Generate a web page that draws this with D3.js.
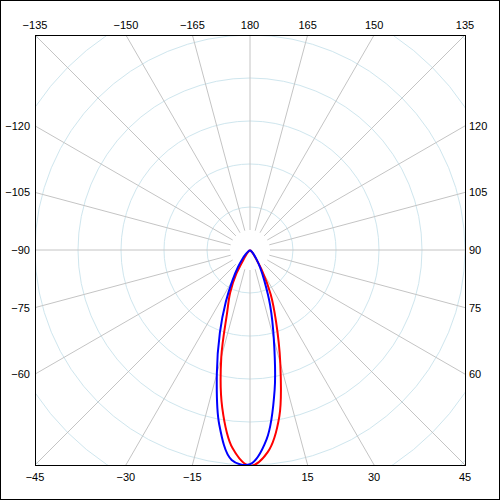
<!DOCTYPE html>
<html>
<head>
<meta charset="utf-8">
<script src="https://cdn.jsdelivr.net/npm/d3@7"></script>
<style>
  html, body { margin: 0; padding: 0; background: #fff; }
  svg { display: block; }
</style>
</head>
<body>
<div id="chart"></div>
<script>
// polar intensity curves, angle 0 points down
const angles = [-90, -85, -80, -75, -70, -65, -60, -55, -50, -45, -40, -35, -30, -25, -20, -15, -10, -5,
  0, 5, 10, 15, 20, 25, 30, 35, 40, 45, 50, 55, 60, 65, 70, 75, 80, 85, 90];
const redValues = [0, 0, 0, 0, 0, 0, 0, 0, 0, 5, 12, 23, 63, 109, 156, 258, 372, 463,
  502, 472, 393, 272, 177, 114, 58, 23, 12, 5, 0, 0, 0, 0, 0, 0, 0, 0, 0];
const blueValues = [0, 0, 0, 0, 0, 0, 0, 0, 5, 16, 28, 49, 81, 133, 205, 298, 412, 490,
  498, 442, 330, 214, 137, 79, 47, 26, 14, 7, 0, 0, 0, 0, 0, 0, 0, 0, 0];
const ringValues = [100, 200, 300, 400, 500, 600, 700];
const spokeAngles = [-165, -150, -135, -120, -105, -90, -75, -60, -45, -30, -15, 0,
  15, 30, 45, 60, 75, 90, 105, 120, 135, 150, 165, 180];

const width = 500, height = 500;
const cx = 250, cy = 250, half = 215;
const fmt = d3.format("d");

const svg = d3.select("#chart")
  .append("svg")
  .attr("width", width)
  .attr("height", height);

svg.append("rect")
  .attr("x", 0.5).attr("y", 0.5)
  .attr("width", width - 1).attr("height", height - 1)
  .attr("fill", "#fff").attr("stroke", "#000");

svg.append("clipPath").attr("id", "plot-clip")
  .append("rect")
  .attr("x", cx - half).attr("y", cy - half)
  .attr("width", half * 2).attr("height", half * 2);

const r = d3.scaleLinear().domain([0, 500]).range([0, half]);
const rad = d => d * Math.PI / 180;

const g = svg.append("g")
  .attr("transform", `translate(${cx},${cy})`);
const plot = svg.append("g").attr("clip-path", "url(#plot-clip)")
  .append("g").attr("transform", `translate(${cx},${cy})`);

// rings
plot.append("g")
  .selectAll("circle")
  .data(ringValues)
  .join("circle")
    .attr("r", d => r(d))
    .attr("fill", "none")
    .attr("stroke", "#cfe6ee")
    .attr("stroke-width", 1);

// spokes
const inner = 20, outer = 400;
plot.append("g")
  .selectAll("line")
  .data(spokeAngles)
  .join("line")
    .attr("x1", d => inner * Math.sin(rad(d)))
    .attr("y1", d => inner * Math.cos(rad(d)))
    .attr("x2", d => outer * Math.sin(rad(d)))
    .attr("y2", d => outer * Math.cos(rad(d)))
    .attr("stroke", "#c4c4c4")
    .attr("stroke-width", 1);

// curves
const line = d3.lineRadial()
  .angle(d => Math.PI - rad(d[0]))
  .radius(d => r(d[1]))
  .curve(d3.curveCatmullRom);

[[redValues, "#ff0000"], [blueValues, "#0000ff"]].forEach(([vals, color]) => {
  plot.append("path")
    .datum(angles.map((a, i) => [a, vals[i]]))
    .attr("d", line)
    .attr("fill", "none")
    .attr("stroke", color)
    .attr("stroke-width", 2)
    .attr("stroke-linejoin", "round");
});

// frame
svg.append("rect")
  .attr("x", cx - half + 0.5).attr("y", cy - half + 0.5)
  .attr("width", half * 2).attr("height", half * 2)
  .attr("fill", "none").attr("stroke", "#000");

// angle labels where spokes meet the frame
const labels = spokeAngles.filter(a => a !== 0).map(a => {
  const s = Math.sin(rad(a)), c = Math.cos(rad(a));
  const t = half / Math.max(Math.abs(s), Math.abs(c));
  const px = t * s, py = t * c;
  if (Math.abs(c) >= Math.abs(s) - 1e-9) {
    return { a, x: px, y: c > 0 ? 231 : -221, anchor: "middle" };
  }
  return s < 0
    ? { a, x: -220, y: py + 4, anchor: "end" }
    : { a, x: 219, y: py + 4, anchor: "start" };
});

g.append("g")
  .attr("font-family", "'Liberation Sans', Arial, sans-serif")
  .attr("font-size", 11)
  .attr("fill", "#000")
  .selectAll("text")
  .data(labels)
  .join("text")
    .attr("x", d => d.x)
    .attr("y", d => d.y)
    .attr("text-anchor", d => d.anchor)
    .text(d => fmt(d.a));
</script>
</body>
</html>
